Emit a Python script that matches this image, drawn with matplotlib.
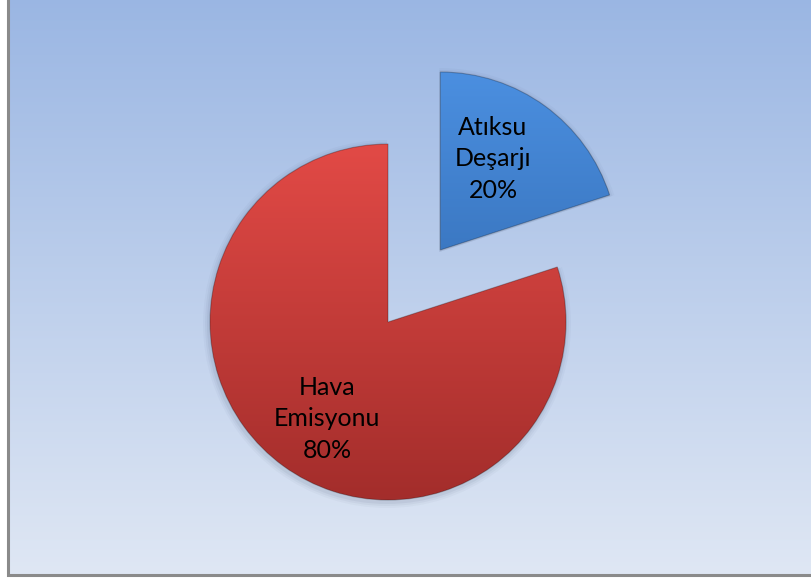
import numpy as np
import matplotlib
matplotlib.use('Agg')
import matplotlib.pyplot as plt
from matplotlib.patches import Wedge
from matplotlib.colors import LinearSegmentedColormap

# data
labels = ['Atıksu\nDeşarjı', 'Hava\nEmisyonu']
values = [20, 80]
explode = [0.5, 0.0]   # fraction of radius

W, H = 811, 579
fig = plt.figure(figsize=(W / 100, H / 100), dpi=100)
ax = fig.add_axes([0, 0, 1, 1])

# chart area background, vertical gradient
bg = LinearSegmentedColormap.from_list('bg', ['#dfe7f4', '#9ab6e3'])
grad = np.linspace(0, 1, 256).reshape(-1, 1)
ax.imshow(grad, cmap=bg, origin='lower', aspect='auto',
          extent=(8, W + 5, 4, H + 5), zorder=0)
ax.plot([7.5, 7.5, W + 5], [H + 5, 4.5, 4.5], color='#8a8a8a', lw=2.2,
        solid_joinstyle='miter', zorder=1)

# pie drawn in pixel coords (pie explode is in data units)
cx, cy, r = 388, H - 322, 178
wedges, texts = ax.pie(values, explode=[e * r for e in explode], startangle=90,
                       counterclock=False, radius=r, center=(cx, cy), frame=True)
ax.set_xlim(0, W)
ax.set_ylim(0, H)
ax.set_aspect('auto')
ax.set_axis_off()

cmaps = [LinearSegmentedColormap.from_list('b', ['#2c62a6', '#4b8fe0']),
         LinearSegmentedColormap.from_list('r', ['#a32d2b', '#e24a46'])]
for w, cm in zip(wedges, cmaps):
    w.set_facecolor('none')
    # soft shadow
    for k, a in [(6, 0.04), (4, 0.05), (2, 0.07)]:
        sh = Wedge((w.center[0] - 1, w.center[1] - 2), w.r + k, w.theta1, w.theta2,
                   facecolor='#405070', alpha=a, edgecolor='none', zorder=2)
        ax.add_patch(sh)
    x0, y0 = w.center[0] - r, w.center[1] - r
    im = ax.imshow(grad, cmap=cm, origin='lower', aspect='auto',
                   extent=(x0, x0 + 2 * r, y0, y0 + 2 * r), zorder=3)
    im.set_clip_path(w)
    w.set_zorder(4)
    w.set_edgecolor((0, 0, 0, 0.25))
    w.set_linewidth(0.8)

# labels
fnt = dict(family=['Lato', 'DejaVu Sans'], fontsize=18, color='black',
           ha='center', va='center', linespacing=1.45, zorder=5)
ax.text(493, H - 159, labels[0] + '\n%d%%' % values[0], **fnt)
ax.text(327, H - 419, labels[1] + '\n%d%%' % values[1], **fnt)

fig.savefig('out.png', dpi=100)
